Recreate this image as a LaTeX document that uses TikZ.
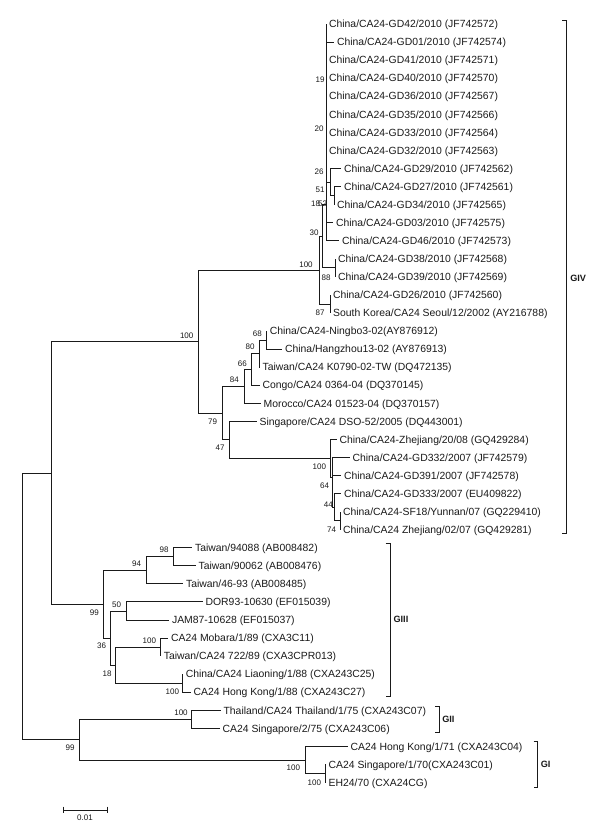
\documentclass[tikz,border=0pt]{standalone}
\usepackage{fontspec}
\setmainfont{Liberation Sans}
\definecolor{TreeInk}{HTML}{1A1A1A}

\begin{document}
\begin{tikzpicture}[x=0.025cm,y=-0.025cm,
  branch/.style={draw=TreeInk,line width=0.6pt},
  bracket/.style={draw=TreeInk,line width=0.6pt},
  leaf/.style={anchor=west,font=\fontsize{7.4}{8}\selectfont,text height=5.3pt,text depth=0pt,inner xsep=2pt,inner ysep=0pt,text=TreeInk},
  boot/.style={font=\fontsize{5.7}{6}\selectfont,text height=4.1pt,text depth=0pt,inner sep=0pt,text=TreeInk},
  clade/.style={anchor=west,font=\bfseries\fontsize{6.5}{7}\selectfont,text height=4.7pt,text depth=0pt,inner sep=0pt,text=TreeInk}
]
\fill[white] (0,0) rectangle (600,839);
\useasboundingbox (0,0) rectangle (600,839);

% internal nodes
\coordinate (nroot) at (22,606.5);
\coordinate (nA) at (51,473.2);
\coordinate (nB) at (198,341.6);
\coordinate (nC) at (319.5,270);
\coordinate (nD) at (322,236);
\coordinate (nE) at (326,204);
\coordinate (n26) at (330,182);
\coordinate (n52) at (334,195.5);
\coordinate (n88) at (335,267.8);
\coordinate (n87) at (330,304);
\coordinate (nF) at (222,413.3);
\coordinate (nG) at (244.3,386.3);
\coordinate (nM) at (251.7,369.3);
\coordinate (nN) at (259,353.6);
\coordinate (nP) at (266.7,340);
\coordinate (nH) at (229.3,439.9);
\coordinate (nI) at (330,458.4);
\coordinate (nJ) at (332,477.4);
\coordinate (nK) at (334,507.1);
\coordinate (nL) at (340,520.7);
\coordinate (nQ) at (103.3,604.3);
\coordinate (nR) at (146,570.3);
\coordinate (nS) at (173.3,556.8);
\coordinate (nT) at (110,638.3);
\coordinate (nU) at (126,611);
\coordinate (nV) at (115.5,665.1);
\coordinate (nW) at (160.7,647.1);
\coordinate (nX) at (182.7,683.2);
\coordinate (nY) at (79,739.7);
\coordinate (nZ) at (191.7,719.3);
\coordinate (nAA) at (305,760);
\coordinate (nAB) at (325,773.5);

% leaves, GIV
\node[leaf] (gd42) at (326,24.0) {China/CA24-GD42/2010 (JF742572)};
\node[leaf] (gd01) at (334,42.1) {China/CA24-GD01/2010 (JF742574)};
\node[leaf] (gd41) at (326,60.1) {China/CA24-GD41/2010 (JF742571)};
\node[leaf] (gd40) at (326,78.2) {China/CA24-GD40/2010 (JF742570)};
\node[leaf] (gd36) at (326,96.2) {China/CA24-GD36/2010 (JF742567)};
\node[leaf] (gd35) at (326,114.3) {China/CA24-GD35/2010 (JF742566)};
\node[leaf] (gd33) at (326,132.4) {China/CA24-GD33/2010 (JF742564)};
\node[leaf] (gd32) at (326,150.4) {China/CA24-GD32/2010 (JF742563)};
\node[leaf] (gd29) at (341,168.5) {China/CA24-GD29/2010 (JF742562)};
\node[leaf] (gd27) at (341,186.5) {China/CA24-GD27/2010 (JF742561)};
\node[leaf] (gd34) at (334,204.6) {China/CA24-GD34/2010 (JF742565)};
\node[leaf] (gd03) at (333,222.7) {China/CA24-GD03/2010 (JF742575)};
\node[leaf] (gd46) at (339,240.7) {China/CA24-GD46/2010 (JF742573)};
\node[leaf] (gd38) at (335,258.8) {China/CA24-GD38/2010 (JF742568)};
\node[leaf] (gd39) at (335,276.8) {China/CA24-GD39/2010 (JF742569)};
\node[leaf] (gd26) at (330,294.9) {China/CA24-GD26/2010 (JF742560)};
\node[leaf] (seoul) at (330,313.0) {South Korea/CA24 Seoul/12/2002 (AY216788)};
\node[leaf] (ningbo) at (266.7,331.0) {China/CA24-Ningbo3-02(AY876912)};
\node[leaf] (hangzhou) at (282,349.1) {China/Hangzhou13-02 (AY876913)};
\node[leaf] (tw0790) at (259.5,367.1) {Taiwan/CA24 K0790-02-TW (DQ472135)};
\node[leaf] (congo) at (259.5,385.2) {Congo/CA24 0364-04 (DQ370145)};
\node[leaf] (morocco) at (260.5,403.3) {Morocco/CA24 01523-04 (DQ370157)};
\node[leaf] (sgdso) at (256.5,421.3) {Singapore/CA24 DSO-52/2005 (DQ443001)};
\node[leaf] (zj2008) at (336.5,439.4) {China/CA24-Zhejiang/20/08 (GQ429284)};
\node[leaf] (gd332) at (349.5,457.4) {China/CA24-GD332/2007 (JF742579)};
\node[leaf] (gd391) at (341,475.5) {China/CA24-GD391/2007 (JF742578)};
\node[leaf] (gd333) at (341,493.6) {China/CA24-GD333/2007 (EU409822)};
\node[leaf] (sf18) at (340,511.6) {China/CA24-SF18/Yunnan/07 (GQ229410)};
\node[leaf] (zj0207) at (340,529.7) {China/CA24 Zhejiang/02/07 (GQ429281)};
% leaves, GIII
\node[leaf] (tw94088) at (192,547.7) {Taiwan/94088 (AB008482)};
\node[leaf] (tw90062) at (195.5,565.8) {Taiwan/90062 (AB008476)};
\node[leaf] (tw4693) at (183,583.9) {Taiwan/46-93 (AB008485)};
\node[leaf] (dor93) at (202.5,601.9) {DOR93-10630 (EF015039)};
\node[leaf] (jam87) at (169,620.0) {JAM87-10628 (EF015037)};
\node[leaf] (mobara) at (168,638.0) {CA24 Mobara/1/89 (CXA3C11)};
\node[leaf] (tw722) at (160.7,656.1) {Taiwan/CA24 722/89 (CXA3CPR013)};
\node[leaf] (liaoning) at (182.7,674.2) {China/CA24 Liaoning/1/88 (CXA243C25)};
\node[leaf] (hk88) at (190.5,692.2) {CA24 Hong Kong/1/88 (CXA243C27)};
% leaves, GII and GI
\node[leaf] (thailand) at (220.5,710.3) {Thailand/CA24 Thailand/1/75 (CXA243C07)};
\node[leaf] (sg75) at (219.5,728.3) {CA24 Singapore/2/75 (CXA243C06)};
\node[leaf] (hk71) at (347.5,746.4) {CA24 Hong Kong/1/71 (CXA243C04)};
\node[leaf] (sg70) at (325.5,764.5) {CA24 Singapore/1/70(CXA243C01)};
\node[leaf] (eh24) at (325.5,782.5) {EH24/70 (CXA24CG)};

% branches
\draw[branch] (nroot) |- (nA);
\draw[branch] (nroot) |- (nY);
\draw[branch] (nA) |- (nB);
\draw[branch] (nA) |- (nQ);
\draw[branch] (nB) |- (nC);
\draw[branch] (nB) |- (nF);
\draw[branch] (nC) |- (nD);
\draw[branch] (nC) |- (n87);
\draw[branch] (nD) |- (nE);
\draw[branch] (nD) |- (n88);
\draw[branch] (nE) |- (gd42.west);
\draw[branch] (nE) |- (gd01.west);
\draw[branch] (nE) |- (gd41.west);
\draw[branch] (nE) |- (gd40.west);
\draw[branch] (nE) |- (gd36.west);
\draw[branch] (nE) |- (gd35.west);
\draw[branch] (nE) |- (gd33.west);
\draw[branch] (nE) |- (gd32.west);
\draw[branch] (nE) |- (n26);
\draw[branch] (nE) |- (gd03.west);
\draw[branch] (nE) |- (gd46.west);
\draw[branch] (n26) |- (gd29.west);
\draw[branch] (n26) |- (n52);
\draw[branch] (n52) |- (gd27.west);
\draw[branch] (n52) |- (gd34.west);
\draw[branch] (n88) |- (gd38.west);
\draw[branch] (n88) |- (gd39.west);
\draw[branch] (n87) |- (gd26.west);
\draw[branch] (n87) |- (seoul.west);
\draw[branch] (nF) |- (nG);
\draw[branch] (nF) |- (nH);
\draw[branch] (nG) |- (nM);
\draw[branch] (nG) |- (morocco.west);
\draw[branch] (nM) |- (nN);
\draw[branch] (nM) |- (congo.west);
\draw[branch] (nN) |- (nP);
\draw[branch] (nN) |- (tw0790.west);
\draw[branch] (nP) |- (ningbo.west);
\draw[branch] (nP) |- (hangzhou.west);
\draw[branch] (nH) |- (sgdso.west);
\draw[branch] (nH) |- (nI);
\draw[branch] (nI) |- (zj2008.west);
\draw[branch] (nI) |- (nJ);
\draw[branch] (nJ) |- (gd332.west);
\draw[branch] (nJ) |- (gd391.west);
\draw[branch] (nJ) |- (nK);
\draw[branch] (nK) |- (gd333.west);
\draw[branch] (nK) |- (nL);
\draw[branch] (nL) |- (sf18.west);
\draw[branch] (nL) |- (zj0207.west);
\draw[branch] (nQ) |- (nR);
\draw[branch] (nQ) |- (nT);
\draw[branch] (nR) |- (nS);
\draw[branch] (nR) |- (tw4693.west);
\draw[branch] (nS) |- (tw94088.west);
\draw[branch] (nS) |- (tw90062.west);
\draw[branch] (nT) |- (nU);
\draw[branch] (nT) |- (nV);
\draw[branch] (nU) |- (dor93.west);
\draw[branch] (nU) |- (jam87.west);
\draw[branch] (nV) |- (nW);
\draw[branch] (nV) |- (nX);
\draw[branch] (nW) |- (mobara.west);
\draw[branch] (nW) |- (tw722.west);
\draw[branch] (nX) |- (liaoning.west);
\draw[branch] (nX) |- (hk88.west);
\draw[branch] (nY) |- (nZ);
\draw[branch] (nY) |- (nAA);
\draw[branch] (nZ) |- (thailand.west);
\draw[branch] (nZ) |- (sg75.west);
\draw[branch] (nAA) |- (hk71.west);
\draw[branch] (nAA) |- (nAB);
\draw[branch] (nAB) |- (sg70.west);
\draw[branch] (nAB) |- (eh24.west);

% bootstrap values
\node[boot] (bB) at (186.7,335.7) {100};
\node[boot] (b19) at (320,80) {19};
\node[boot] (b20) at (319,128.3) {20};
\node[boot] (b26) at (319,171.7) {26};
\node[boot] (b51) at (320,189.3) {51};
\node[boot] (b18a) at (315.7,203.3) {18};
\node[boot] (b52) at (322.5,203.3) {52};
\node[boot] (b30) at (314,232.3) {30};
\node[boot] (bC) at (306,264.3) {100};
\node[boot] (b88) at (326,277.3) {88};
\node[boot] (b87) at (320,312.7) {87};
\node[boot] (bP) at (257.3,333.7) {68};
\node[boot] (bN) at (250,347) {80};
\node[boot] (bM) at (242.3,363.3) {66};
\node[boot] (bG) at (234.3,380) {84};
\node[boot] (bF) at (212.7,421.7) {79};
\node[boot] (bH) at (220,447.7) {47};
\node[boot] (bI) at (319.3,466.7) {100};
\node[boot] (bJ) at (324.7,485.3) {64};
\node[boot] (bK) at (328.3,505) {44};
\node[boot] (bL) at (331.7,529.3) {74};
\node[boot] (bS) at (164,550) {98};
\node[boot] (bR) at (136.7,564) {94};
\node[boot] (bQ) at (94.3,612.3) {99};
\node[boot] (bU) at (116.7,604.3) {50};
\node[boot] (bT) at (101.7,645.7) {36};
\node[boot] (bW) at (149.3,640.3) {100};
\node[boot] (bV) at (107,673.3) {18};
\node[boot] (bX) at (172.3,691.7) {100};
\node[boot] (bZ) at (181,712.3) {100};
\node[boot] (bY) at (70,747.7) {99};
\node[boot] (bAA) at (293.3,767.7) {100};
\node[boot] (bAB) at (314.3,782.3) {100};

% genotype brackets
\draw[bracket] (562,20) -| (566.5,533) -- (562,533);
\node[clade] (giv) at (570,278.3) {GIV};
\draw[bracket] (385.5,543.3) -| (390,696) -- (385.5,696);
\node[clade] (giii) at (393.3,619.3) {GIII};
\draw[bracket] (435,706) -| (439,732.7) -- (435,732.7);
\node[clade] (gii) at (442,719.3) {GII};
\draw[bracket] (533.5,741.7) -| (537.5,787.3) -- (533.5,787.3);
\node[clade] (gi) at (540.5,764) {GI};

% scale bar
\draw[bracket] (63.3,810) -- (107.3,810);
\draw[bracket] (63.3,806.7) -- (63.3,812.9);
\draw[bracket] (107.3,806.7) -- (107.3,812.9);
\node[boot] (scale) at (85,817.7) {0.01};
\end{tikzpicture}
\end{document}
